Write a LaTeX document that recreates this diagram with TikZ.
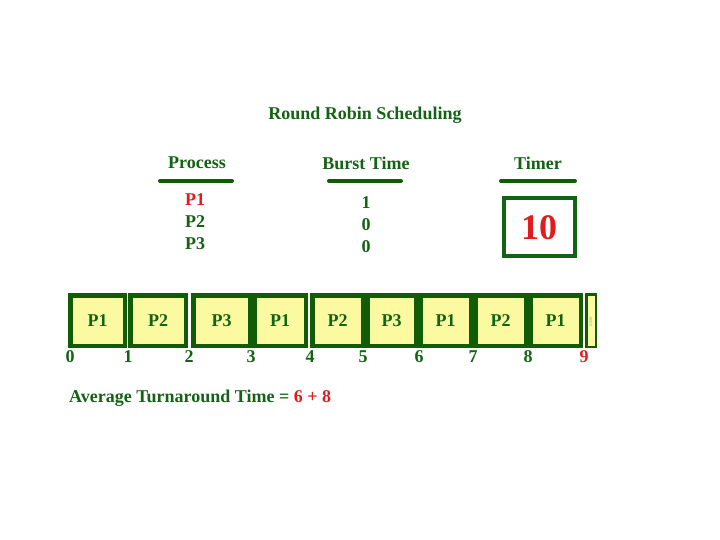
\documentclass[tikz,border=0pt]{standalone}
\usepackage{fontspec}
\setmainfont{Liberation Serif}
\definecolor{txtgreen}{RGB}{20,98,20}
\definecolor{boxgreen}{RGB}{18,92,8}
\definecolor{boxfill}{RGB}{252,250,160}
\definecolor{hlred}{RGB}{226,28,30}
\begin{document}
\begin{tikzpicture}[x=1pt,y=-1pt,
  lbl/.style={inner sep=0pt,text=txtgreen,font=\bfseries\fontsize{18}{20}\selectfont},
  redlbl/.style={lbl,text=hlred},
  uline/.style={draw=boxgreen,line width=4pt,line cap=round},
  gbox/.style={draw=boxgreen,fill=boxfill,line width=4.5pt,inner sep=0pt,text=txtgreen,
    font=\bfseries\fontsize{18}{20}\selectfont},
  tbox/.style={draw=txtgreen,line width=4pt,inner sep=0pt,fill=white}]
\useasboundingbox[fill=white] (0,0) rectangle (720,540);

% title
\node[lbl] (title) at (365,115) {Round Robin Scheduling};

% headers
\node[lbl] (hproc) at (197,163) {Process};
\node[lbl] (hburst) at (366,163) {Burst Time};
\node[lbl] (htimer) at (538,163) {Timer};
\coordinate (u1a) at (160,181); \coordinate (u1b) at (232,181);
\coordinate (u2a) at (329,181); \coordinate (u2b) at (401,181);
\coordinate (u3a) at (501,181); \coordinate (u3b) at (575,181);
\draw[uline] (u1a) -- (u1b);
\draw[uline] (u2a) -- (u2b);
\draw[uline] (u3a) -- (u3b);

% process column
\node[redlbl] (p1) at (195,200) {P1};
\node[lbl] (p2) at (195,222) {P2};
\node[lbl] (p3) at (195,244) {P3};

% burst column
\node[lbl] (b1) at (366,203) {1};
\node[lbl] (b2) at (366,225) {0};
\node[lbl] (b3) at (366,247) {0};

% timer
\node[tbox,minimum width=71pt,minimum height=58pt] (timer) at (539.5,227) {};
\node[inner sep=0pt,text=hlred,font=\bfseries\fontsize{36}{40}\selectfont] (tval) at (539,228) {10};

% gantt chart
\foreach \l/\r/\t [count=\i] in {68/127/P1,128/188/P2,191/252/P3,252/308/P1,310/365/P2,365/418/P3,418/473/P1,473/528/P2,528/583/P1}{
  \pgfmathsetmacro{\cx}{(\l+\r)/2}
  \pgfmathsetmacro{\w}{\r-\l-4.5}
  \node[gbox,minimum width=\w pt,minimum height=50.5pt] (g\i) at (\cx,320.5) {\t};
}
\node[gbox,line width=2.5pt,minimum width=9.5pt,minimum height=52.5pt] (g10) at (591,320.5) {};
\node[inner sep=0pt,text=txtgreen!40,font=\bfseries\fontsize{14}{16}\selectfont] (g10t) at (591,322) {\scalebox{0.18}[1]{P1}};

% time labels
\foreach \x/\n [count=\i from 0] in {70/0,128/1,189/2,251/3,310/4,363/5,419/6,473/7,528/8}{
  \node[lbl] (t\i) at (\x,357) {\n};
}
\node[redlbl] (t9) at (584,357) {9};

% average
\node[lbl,anchor=west] (avg) at (69,398) {Average Turnaround Time = \textcolor{hlred}{6 + 8}};
\end{tikzpicture}
\end{document}
